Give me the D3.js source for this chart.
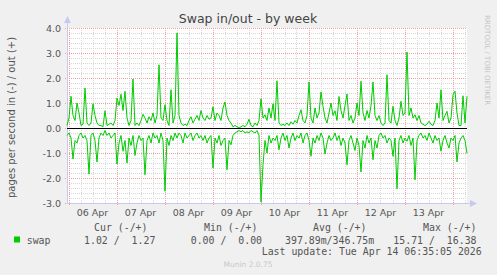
<!DOCTYPE html>
<html>
<head>
<meta charset="utf-8">
<script src="https://cdn.jsdelivr.net/npm/d3@7"></script>
<style>
  body { margin: 0; background: #f0f0f0; }
  svg text { white-space: pre; }
</style>
</head>
<body>
<svg id="chart" width="497" height="275"></svg>
<script>
// Global: values, one point per hour (out is +, in is drawn as -)
const swapOut = [0.1, 0.4, 1.27, 0.5, 0.3, 1.0, 0.6, 0.1, 0.15, 1.6,
  0.2, 0.1, 0.2, 0.97, 0.5, 0.2, 0.1, 0.1, 0.05, 0.69,
  0.1, 0.15, 0.2, 0.1, 0.3, 1.2, 0.9, 1.35, 0.7, 1.47,
  0.4, 0.1, 0.3, 1.96, 0.1, 0.2, 0.1, 0.3, 0.55, 0.4,
  0.2, 0.45, 0.3, 0.6, 0.2, 0.5, 2.53, 0.4, 0.3, 0.93,
  0.3, 0.1, 1.53, 0.2, 0.5, 3.8, 0.5, 0.2, 0.1, 0.15,
  0.1, 0.3, 0.45, 0.2, 0.35, 0.5, 0.3, 0.7, 0.4, 0.3,
  0.5, 0.35, 0.4, 0.85, 0.3, 0.6, 0.5, 0.3, 0.8, 1.04,
  0.5, 0.3, 0.2, 0.05, 0.1, 0.05, 0.0, 0.05, 0.1, 0.05,
  0.15, 0.35, 0.1, 0.05, 0.2, 0.1, 0.3, 1.17, 0.4, 0.53,
  0.3, 0.8, 0.4, 0.97, 0.3, 1.89, 0.2, 0.1, 0.15, 0.1,
  0.2, 0.1, 0.25, 0.15, 0.3, 0.2, 0.5, 0.73, 0.3, 0.2,
  0.5, 1.84, 0.4, 0.2, 0.8, 0.4, 0.6, 1.44, 0.87, 0.4,
  0.2, 0.6, 1.0, 0.5, 0.69, 0.3, 1.26, 0.7, 0.4, 0.9,
  1.36, 0.3, 0.5, 0.2, 0.4, 1.0, 0.5, 1.87, 0.6, 0.3,
  0.7, 0.4, 0.9, 1.84, 0.5, 0.3, 0.5, 0.2, 0.1, 0.2,
  2.13, 0.3, 0.2, 0.87, 0.3, 0.1, 0.4, 1.07, 0.5, 0.6,
  3.04, 0.5, 0.8, 0.4, 0.53, 0.3, 0.5, 0.2, 0.15, 0.1,
  0.15, 0.27, 0.15, 0.1, 0.3, 1.0, 0.4, 1.53, 0.3, 0.5,
  0.67, 0.2, 0.4, 1.33, 1.47, 0.6, 0.1, 0.1, 1.29, 0.2,
  1.27];

const swapIn = [0.3, 0.2, 0.4, 1.24, 0.5, 0.6, 0.3, 0.2, 0.4, 0.3,
  0.5, 1.84, 0.3, 0.2, 0.5, 1.36, 0.4, 0.2, 0.3, 0.1,
  0.3, 0.2, 0.4, 0.3, 0.2, 1.44, 0.6, 0.3, 0.93, 0.5,
  1.4, 0.4, 0.7, 0.3, 1.1, 0.6, 0.3, 0.5, 0.4, 1.87,
  0.5, 0.3, 0.6, 0.2, 0.4, 0.3, 0.6, 0.2, 0.5, 2.53,
  0.4, 0.7, 0.3, 0.5, 0.2, 0.4, 0.2, 0.3, 0.6, 0.2,
  0.4, 0.3, 0.2, 0.5, 0.3, 0.2, 0.4, 0.3, 0.5, 0.3,
  0.6, 0.4, 0.3, 1.6, 0.4, 0.6, 0.3, 0.7, 0.5, 0.4,
  1.67, 0.5, 0.67, 0.3, 0.2, 0.15, 0.1, 0.15, 0.1, 0.2,
  0.15, 0.2, 0.1, 0.15, 0.2, 0.1, 0.3, 2.96, 1.47, 0.5,
  1.0, 0.3, 0.6, 0.4, 0.5, 0.3, 0.87, 0.4, 0.2, 0.5,
  0.3, 0.8, 0.4, 0.2, 0.5, 0.3, 0.4, 0.2, 0.6, 0.3,
  0.2, 0.5, 1.13, 0.4, 0.6, 0.3, 0.5, 0.2, 0.4, 1.04,
  0.6, 0.3, 0.5, 0.4, 0.2, 0.5, 0.3, 0.7, 0.4, 0.6,
  1.47, 0.5, 0.3, 0.6, 0.9, 0.4, 0.7, 1.76, 0.5, 0.8,
  0.3, 0.6, 0.4, 1.27, 0.5, 0.8, 0.3, 0.2, 0.4, 0.3,
  0.6, 0.4, 0.5, 1.13, 0.4, 2.43, 0.5, 0.3, 0.6, 0.4,
  0.53, 0.3, 0.7, 0.4, 2.07, 0.5, 0.3, 0.2, 0.4, 0.3,
  0.5, 0.2, 0.4, 0.6, 0.3, 0.5, 0.4, 0.93, 0.5, 0.3,
  0.6, 0.8, 0.4, 0.5, 0.3, 1.36, 0.6, 0.4, 0.3, 0.5,
  1.02];

// y ticks and legend figures
const yTicks = [4, 3, 2, 1, 0, -1, -2, -3];
const legendHeaders = ['Cur (-/+)', 'Min (-/+)', 'Avg (-/+)', 'Max (-/+)'];
const legendValues = ['1.02 /  1.27', '0.00 /  0.00', '397.89m/346.75m', '15.71 /  16.38'];
const lastUpdate = 'Last update: Tue Apr 14 06:35:05 2026';

const startTime = new Date(2026, 3, 5, 23, 15);
const endTime = d3.timeHour.offset(startTime, swapOut.length - 1);

const plotL = 67, plotR = 467, plotT = 28, plotB = 203;
const svg = d3.select('#chart');

svg.append('rect').attr('width', 497).attr('height', 275).attr('fill', '#f0f0f0');
svg.append('rect').attr('x', plotL).attr('y', plotT).attr('width', plotR - plotL).attr('height', plotB - plotT).attr('fill', '#fff');

const x = d3.scaleTime().domain([startTime, endTime]).range([plotL, plotR]);
const y = d3.scaleLinear().domain([-3, 4]).range([plotB, plotT]);

// minor grid (gray dotted)
const minorX = d3.timeHour.every(6).range(startTime, endTime);
svg.append('g').selectAll('line').data(minorX).enter().append('line')
  .attr('x1', d => Math.round(x(d)) + 0.5).attr('x2', d => Math.round(x(d)) + 0.5)
  .attr('y1', plotT).attr('y2', plotB)
  .attr('stroke', '#d8d8d8').attr('stroke-dasharray', '1,1');

const minorY = d3.range(-3, 4.01, 0.2);
svg.append('g').selectAll('line').data(minorY).enter().append('line')
  .attr('x1', plotL).attr('x2', plotR)
  .attr('y1', d => Math.round(y(d)) + 0.5).attr('y2', d => Math.round(y(d)) + 0.5)
  .attr('stroke', '#d8d8d8').attr('stroke-dasharray', '1,1');

// major grid (red dotted)
const days = d3.timeDay.range(d3.timeDay.ceil(startTime), endTime);
svg.append('g').selectAll('line').data(days).enter().append('line')
  .attr('x1', d => Math.round(x(d)) + 0.5).attr('x2', d => Math.round(x(d)) + 0.5)
  .attr('y1', plotT).attr('y2', plotB + 3)
  .attr('stroke', '#f0a0a0').attr('stroke-dasharray', '1,1');

svg.append('g').selectAll('line').data(yTicks).enter().append('line')
  .attr('x1', plotL - 2).attr('x2', plotR)
  .attr('y1', d => Math.round(y(d)) + 0.5).attr('y2', d => Math.round(y(d)) + 0.5)
  .attr('stroke', '#f0a0a0').attr('stroke-dasharray', '1,1');

// axis lines + arrows
svg.append('line').attr('x1', plotL + 0.5).attr('x2', plotL + 0.5).attr('y1', plotT - 6).attr('y2', plotB + 1)
  .attr('stroke', '#c8c8f0');
svg.append('line').attr('x1', plotL).attr('x2', plotR + 4).attr('y1', plotB + 0.5).attr('y2', plotB + 0.5)
  .attr('stroke', '#c8c8f0');
svg.append('path').attr('d', `M${plotL - 3},${plotT - 5} L${plotL + 4},${plotT - 5} L${plotL + 0.5},${plotT - 12} Z`).attr('fill', '#c8c8f0');
svg.append('path').attr('d', `M${plotR + 3},${plotB - 3} L${plotR + 3},${plotB + 4} L${plotR + 10},${plotB + 0.5} Z`).attr('fill', '#c8c8f0');

// tick labels
svg.append('g').selectAll('text').data(yTicks).enter().append('text')
  .attr('x', 61).attr('y', d => y(d) + 3.5)
  .attr('text-anchor', 'end')
  .attr('font-family', 'DejaVu Sans').attr('font-size', 9.5).attr('fill', '#555')
  .text(d => d3.format('.1f')(d).replace('−', '-'));

// day labels sit at noon, only the ones that fall inside the plot
const noonLabels = days.map(d => d3.timeHour.offset(d, 12)).filter(d => d < endTime);
svg.append('g').selectAll('text').data(noonLabels).enter().append('text')
  .attr('x', d => x(d))
  .attr('y', 216)
  .attr('text-anchor', 'middle')
  .attr('font-family', 'DejaVu Sans').attr('font-size', 9.5).attr('fill', '#555')
  .text(d => d3.timeFormat('%d %b')(d));

// the two series
const line = d3.line().x((d, i) => x(d3.timeHour.offset(startTime, i))).y(d => y(d));
svg.append('path').datum(swapOut).attr('d', line)
  .attr('fill', 'none').attr('stroke', '#00cc00').attr('stroke-width', 1);
svg.append('path').datum(swapIn.map(v => -v)).attr('d', line)
  .attr('fill', 'none').attr('stroke', '#00cc00').attr('stroke-width', 1);

// zero rule
svg.append('line').attr('x1', plotL).attr('x2', plotR).attr('y1', Math.round(y(0)) + 0.5).attr('y2', Math.round(y(0)) + 0.5)
  .attr('stroke', '#000');

// title and axis title
svg.append('text').attr('x', 248).attr('y', 23).attr('text-anchor', 'middle')
  .attr('font-family', 'DejaVu Sans').attr('font-size', 12.5).attr('fill', '#444')
  .text('Swap in/out - by week');

svg.append('text').attr('transform', `translate(15,${(plotT + plotB) / 2 + 2}) rotate(-90)`)
  .attr('text-anchor', 'middle')
  .attr('font-family', 'DejaVu Sans').attr('font-size', 10).attr('fill', '#555')
  .text('pages per second in (-) / out (+)');

svg.append('text').attr('transform', 'translate(485,15) rotate(90)')
  .attr('font-family', 'DejaVu Sans').attr('font-size', 7).attr('fill', '#c4c4c4')
  .text('RRDTOOL / TOBI OETIKER');

// legend
const legendX = [94, 204, 313, 423];
const valueX = [84, 190.7, 285, 393.3];
const mono = 'DejaVu Sans Mono';

svg.append('g').selectAll('text').data(legendHeaders).enter().append('text')
  .attr('x', (d, i) => legendX[i]).attr('y', 231)
  .attr('font-family', mono).attr('font-size', 9.9).attr('fill', '#555')
  .text(d => d);

svg.append('rect').attr('x', 14).attr('y', 236.5).attr('width', 6).attr('height', 6).attr('fill', '#00cc00');
svg.append('text').attr('x', 26.7).attr('y', 243.5)
  .attr('font-family', mono).attr('font-size', 9.9).attr('fill', '#555').text('swap');

svg.append('g').selectAll('text').data(legendValues).enter().append('text')
  .attr('x', (d, i) => valueX[i]).attr('y', 243.5)
  .attr('font-family', mono).attr('font-size', 9.9).attr('fill', '#555')
  .text(d => d);

svg.append('text').attr('x', 261.7).attr('y', 255)
  .attr('font-family', mono).attr('font-size', 9.9).attr('fill', '#555')
  .text(lastUpdate);

svg.append('text').attr('x', 248).attr('y', 267).attr('text-anchor', 'middle')
  .attr('font-family', 'DejaVu Sans').attr('font-size', 7.5).attr('fill', '#c8c8c8')
  .text('Munin 2.0.75');
</script>
</body>
</html>
